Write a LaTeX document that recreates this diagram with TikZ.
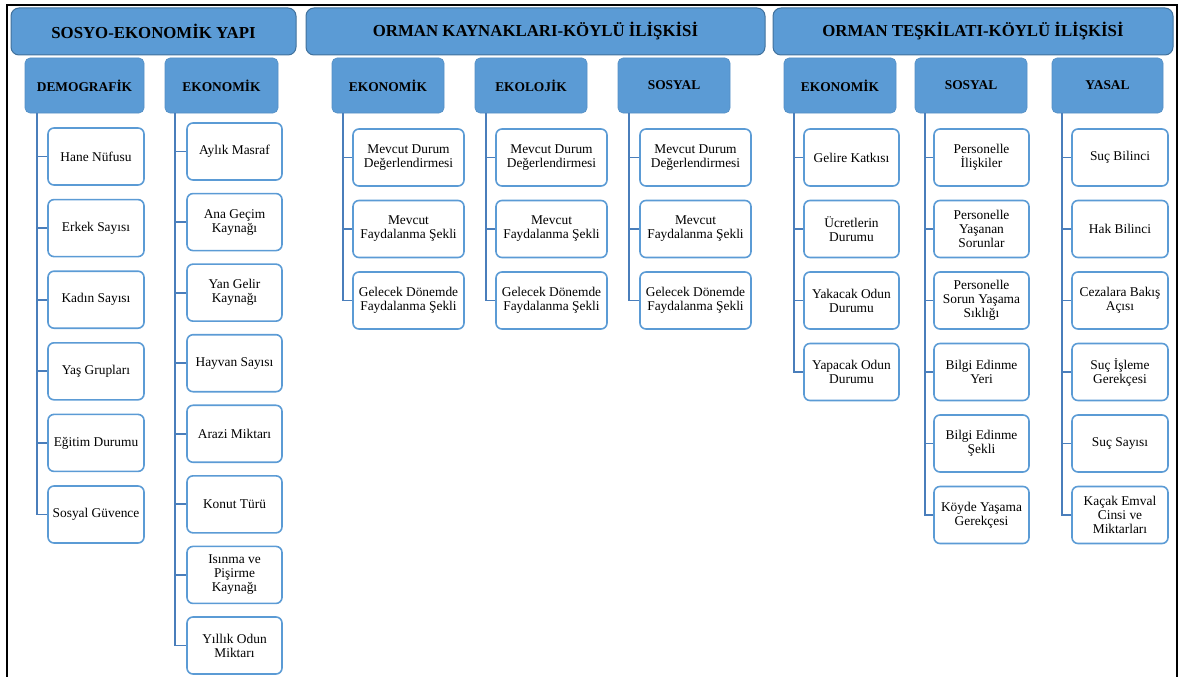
\documentclass[tikz,border=0pt]{standalone}
\usepackage{fontspec}
\setmainfont{Liberation Serif}
\newfontfamily\tnr{Liberation Serif}
\usetikzlibrary{calc}
\definecolor{boxfill}{HTML}{5B9BD5}
\definecolor{boxedge}{HTML}{41719C}
\definecolor{leafedge}{HTML}{5B9BD5}
\definecolor{connc}{HTML}{4A7EBB}
\tikzset{
  topbox/.style={draw=boxedge, line width=1pt, fill=boxfill, rounded corners=8pt,
    minimum height=47pt, inner sep=0pt, font=\tnr\fontsize{16.8}{18}\selectfont\bfseries},
  subbox/.style={draw=boxfill!92!black, line width=0.6pt, fill=boxfill, rounded corners=5pt,
    minimum height=55pt, minimum width=112pt, inner sep=0pt, font=\tnr\fontsize{13.4}{14}\selectfont\bfseries},
  leaf/.style={draw=leafedge, line width=1.6pt, fill=white, rounded corners=6pt,
    minimum height=57pt, inner sep=0pt, align=center, font=\tnr\fontsize{13.4}{14}\selectfont},
  conn/.style={draw=connc, line width=1.8pt},
  frame/.style={draw=black, line width=2pt}
}
\begin{document}
\begin{tikzpicture}[x=1pt,y=-1pt]
\useasboundingbox (0,0) rectangle (1178,677);
% frame
\draw[frame] (6.5,678) -- (6.5,5.5) -- (1176.5,5.5) -- (1176.5,678);
% top headers
\node[topbox, minimum width=285pt] (h1) at (153.5,31.5) {SOSYO-EKONOMİK YAPI};
\node[topbox, minimum width=459pt] (h2) at (535.5,31.5) {ORMAN KAYNAKLARI-KÖYLÜ İLİŞKİSİ};
\node[topbox, minimum width=400pt] (h3) at (973,31.5) {ORMAN TEŞKİLATI-KÖYLÜ İLİŞKİSİ};
% sub headers
\node[subbox, minimum width=119pt] (s1) at (84.5,85.5) {DEMOGRAFİK};
\node[subbox, minimum width=113pt] (s2) at (221.5,85.5) {EKONOMİK};
\node[subbox] (s3) at (388,85.5) {EKONOMİK};
\node[subbox] (s4) at (531,85.5) {EKOLOJİK};
\node[subbox] (s5) at (674,85.5) {SOSYAL};
\node[subbox] (s6) at (840,85.5) {EKONOMİK};
\node[subbox] (s7) at (971,85.5) {SOSYAL};
\node[subbox, minimum width=111pt] (s8) at (1107.5,85.5) {YASAL};
% column 1
\foreach \t [count=\i from 0] in {Hane Nüfusu, Erkek Sayısı, Kadın Sayısı, Yaş Grupları, Eğitim Durumu, Sosyal Güvence}{
  \node[leaf, minimum width=96pt] (c1-\i) at (96,{156.5+71.6*\i}) {\t};
  \draw[conn] ([xshift=12pt]s1.south west) |- (c1-\i.west);
}
% column 2
\foreach \t [count=\i from 0] in {Aylık Masraf, {Ana Geçim\\Kaynağı}, {Yan Gelir\\Kaynağı}, Hayvan Sayısı, Arazi Miktarı, Konut Türü, {Isınma ve\\Pişirme\\Kaynağı}, {Yıllık Odun\\Miktarı}}{
  \node[leaf, minimum width=95pt] (c2-\i) at (234.5,{151.5+70.57*\i}) {\t};
  \draw[conn] ([xshift=10pt]s2.south west) |- (c2-\i.west);
}
% columns 3-5
\foreach \c/\s/\x in {3/s3/408.5, 4/s4/551.5, 5/s5/695.5}{
  \foreach \t [count=\i from 0] in {{Mevcut Durum\\Değerlendirmesi}, {Mevcut\\Faydalanma Şekli}, {Gelecek Dönemde\\Faydalanma Şekli}}{
    \node[leaf, minimum width=111pt] (c\c-\i) at (\x,{157.5+71.5*\i}) {\t};
    \draw[conn] ([xshift=11pt]\s.south west) |- (c\c-\i.west);
  }
}
% column 6
\foreach \t [count=\i from 0] in {Gelire Katkısı, {Ücretlerin\\Durumu}, {Yakacak Odun\\Durumu}, {Yapacak Odun\\Durumu}}{
  \node[leaf, minimum width=95pt] (c6-\i) at (851.5,{157.5+71.5*\i}) {\t};
  \draw[conn] ([xshift=10pt]s6.south west) |- (c6-\i.west);
}
% column 7
\foreach \t [count=\i from 0] in {{Personelle\\İlişkiler}, {Personelle\\Yaşanan\\Sorunlar}, {Personelle\\Sorun Yaşama\\Sıklığı}, {Bilgi Edinme\\Yeri}, {Bilgi Edinme\\Şekli}, {Köyde Yaşama\\Gerekçesi}}{
  \node[leaf, minimum width=95pt] (c7-\i) at (981.5,{157.5+71.5*\i}) {\t};
  \draw[conn] ([xshift=10pt]s7.south west) |- (c7-\i.west);
}
% column 8
\foreach \t [count=\i from 0] in {Suç Bilinci, Hak Bilinci, {Cezalara Bakış\\Açısı}, {Suç İşleme\\Gerekçesi}, Suç Sayısı, {Kaçak Emval\\Cinsi ve\\Miktarları}}{
  \node[leaf, minimum width=96pt] (c8-\i) at (1120,{157.5+71.5*\i}) {\t};
  \draw[conn] ([xshift=10pt]s8.south west) |- (c8-\i.west);
}
\end{tikzpicture}
\end{document}
